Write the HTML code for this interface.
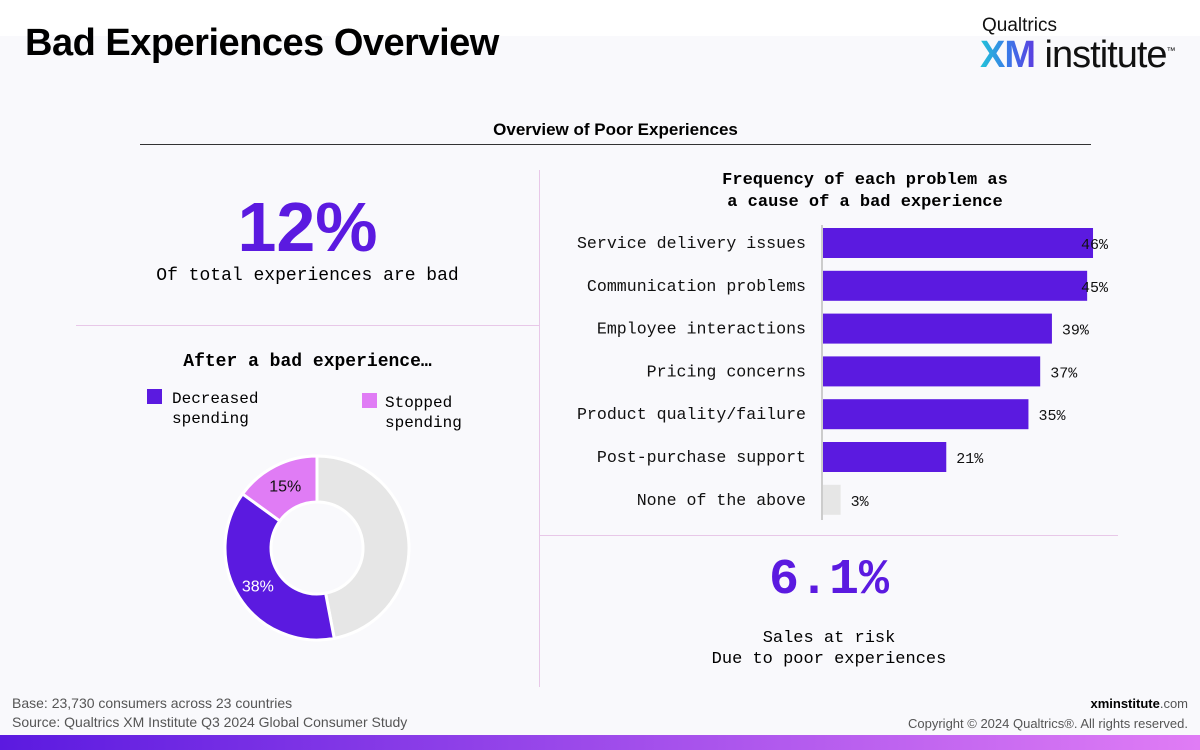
<!DOCTYPE html>
<html><head><meta charset="utf-8">
<style>
body{margin:0;width:1200px;height:750px;overflow:hidden;background:#f9f9fc;font-family:"Liberation Sans",sans-serif;position:relative}
.abs{position:absolute}
.mono{font-family:"Liberation Mono",monospace}
</style></head><body>
<div class="abs" style="left:0;top:0;width:1200px;height:36px;background:#fff"></div>
<div class="abs" style="left:25px;top:22px;font-size:38px;font-weight:bold;color:#000;letter-spacing:-0.5px">Bad Experiences Overview</div>
<div class="abs" style="left:982px;top:15px;font-size:19px;color:#111">Qualtrics</div>
<div class="abs" style="left:980px;top:34px;font-size:38px;color:#111;letter-spacing:-1px"><b style="background:linear-gradient(90deg,#21c5d8,#3a7ae8,#5b3ce0);-webkit-background-clip:text;color:transparent">XM</b> institute<sup style="font-size:9px">™</sup></div>

<div class="abs" style="left:140px;top:120px;width:951px;text-align:center;font-size:17px;font-weight:bold">Overview of Poor Experiences</div>
<div class="abs" style="left:140px;top:144px;width:951px;height:1px;background:#333"></div>
<div class="abs" style="left:539px;top:170px;width:1px;height:517px;background:#e8c8e8"></div>
<div class="abs" style="left:76px;top:325px;width:463px;height:1px;background:#e8c8e8"></div>
<div class="abs" style="left:540px;top:535px;width:578px;height:1px;background:#e8c8e8"></div>

<div class="abs" style="left:76px;top:187px;width:463px;text-align:center;font-size:70px;font-weight:bold;color:#5b1ae0">12%</div>
<div class="abs mono" style="left:76px;top:266px;width:463px;text-align:center;font-size:18px">Of total experiences are bad</div>

<div class="abs mono" style="left:76px;top:352px;width:463px;text-align:center;font-size:18px;font-weight:bold">After a bad experience…</div>
<div class="abs" style="left:147px;top:389px;width:15px;height:15px;background:#5b1ae0"></div>
<div class="abs mono" style="left:172px;top:389px;font-size:16px;line-height:20px">Decreased<br>spending</div>
<div class="abs" style="left:362px;top:393px;width:15px;height:15px;background:#e07cf5"></div>
<div class="abs mono" style="left:385px;top:393px;font-size:16px;line-height:20px">Stopped<br>spending</div>

<svg class="abs" style="left:0;top:0" width="1200" height="750" id="chart"></svg>

<div class="abs mono" style="left:540px;top:552px;width:578px;text-align:center;font-size:50px;font-weight:bold;color:#5b1ae0">6.1%</div>
<div class="abs mono" style="left:540px;top:628px;width:578px;text-align:center;font-size:17px;line-height:21px">Sales at risk<br>Due to poor experiences</div>

<div class="abs" style="left:12px;top:694px;font-size:14px;color:#555;line-height:19px">Base: 23,730 consumers across 23 countries<br>Source: Qualtrics XM Institute Q3 2024 Global Consumer Study</div>
<div class="abs" style="right:12px;top:694px;font-size:13px;color:#555;text-align:right;line-height:20px"><b style="color:#000">xminstitute</b>.com<br>Copyright © 2024 Qualtrics®. All rights reserved.</div>
<div class="abs" style="left:0;top:735px;width:1200px;height:15px;background:linear-gradient(90deg,#5b1ae0,#e07cf5)"></div>

<script>
const categories=["Service delivery issues","Communication problems","Employee interactions","Pricing concerns","Product quality/failure","Post-purchase support","None of the above"];
const values=[46,45,39,37,35,21,3];
const donutLabels=["Neither","Decreased spending","Stopped spending"];
const donutValues=[47,38,15];
const NS="http://www.w3.org/2000/svg";
const svg=document.getElementById('chart');
function mk(t,a){const e=document.createElementNS(NS,t);for(const k in a)e.setAttribute(k,a[k]);svg.appendChild(e);return e;}
const x0=823,scale=5.87,y0=243,step=42.8,bh=30;
const xs=v=>x0+v*scale, ys=i=>y0+i*step;
const t1=mk('text',{x:865,y:184,'text-anchor':'middle','font-family':'Liberation Mono,monospace','font-size':17,'font-weight':'bold'});t1.textContent='Frequency of each problem as';


const t2=mk('text',{x:865,y:206,'text-anchor':'middle','font-family':'Liberation Mono,monospace','font-size':17,'font-weight':'bold'});t2.textContent='a cause of a bad experience';


categories.forEach((c,i)=>{
 const r=mk('rect',{x:x0,y:ys(i)-bh/2,width:xs(values[i])-x0,height:bh,fill:c==="None of the above"?'#e6e6e6':'#5b1ae0'});
 
 
 const l=mk('text',{x:806,y:ys(i)+5,'text-anchor':'end','font-family':'Liberation Mono,monospace','font-size':16.6,fill:'#111'});l.textContent=c;
 
 
 const v=mk('text',{x:Math.min(xs(values[i])+10,1081),y:ys(i)+6,'font-family':'Liberation Mono,monospace','font-size':15,fill:'#111'});v.textContent=values[i]+'%';
 
 
});
const ax=mk('line',{x1:822,y1:225,x2:822,y2:520,stroke:'#ccc','stroke-width':2});


const cx=317,cy=548,R=92,r0=46;
const colors=['#e6e6e6','#5b1ae0','#e07cf5'];
const total=donutValues.reduce((a,b)=>a+b,0);
let ang=0;
donutValues.forEach((v,i)=>{
 const a0=ang, a1=ang+v/total*2*Math.PI; ang=a1;
 const p=(a,rad)=>[cx+rad*Math.sin(a),cy-rad*Math.cos(a)];
 const large=(a1-a0)>Math.PI?1:0;
 const [ax0,ay0]=p(a0,R),[ax1,ay1]=p(a1,R),[bx1,by1]=p(a1,r0),[bx0,by0]=p(a0,r0);
 const s=mk('path',{d:`M${ax0},${ay0}A${R},${R} 0 ${large} 1 ${ax1},${ay1}L${bx1},${by1}A${r0},${r0} 0 ${large} 0 ${bx0},${by0}Z`,fill:colors[i],stroke:'#fff','stroke-width':3});
 
 
 if(i>0){const m=(a0+a1)/2,[lx,ly]=p(m,70);
  const t=mk('text',{x:lx,y:ly+6,'text-anchor':'middle','font-family':'Liberation Sans,sans-serif','font-size':16,fill:i==1?'#fff':'#111'});t.textContent=v+'%';
  
  }
});
</script>
</body></html>
